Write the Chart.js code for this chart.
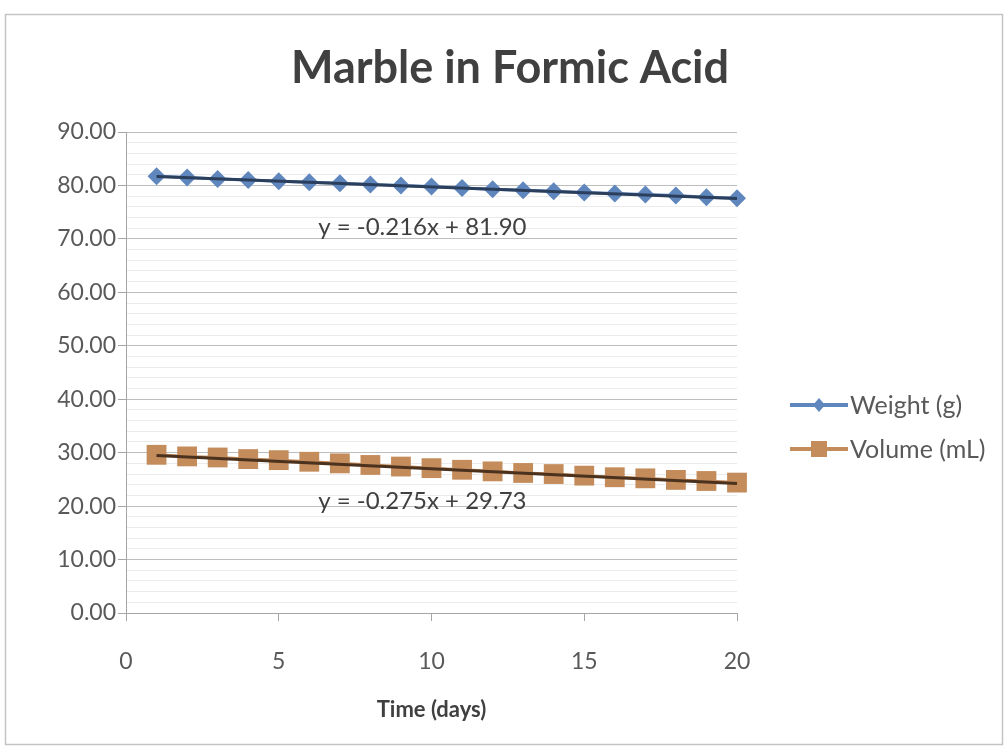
<!DOCTYPE html>
<html>
<head>
<meta charset="utf-8">
<script src="https://cdn.jsdelivr.net/npm/chart.js"></script>
<style>
  html, body { margin: 0; padding: 0; background: #fff; }
  canvas { display: block; }
</style>
</head>
<body>
<canvas id="chart" width="1006" height="751"></canvas>
<script>
const chartTitle = "Marble in Formic Acid";
const days = [1, 2, 3, 4, 5, 6, 7, 8, 9, 10, 11, 12, 13, 14, 15, 16, 17, 18, 19, 20];
const weight = [81.7, 81.5, 81.2, 81.0, 80.8, 80.6, 80.4, 80.2, 80.0, 79.8, 79.5, 79.3, 79.1, 78.9, 78.7, 78.5, 78.3, 78.1, 77.8, 77.6];
const volume = [29.6, 29.3, 29.1, 28.8, 28.6, 28.3, 28.0, 27.7, 27.4, 27.1, 26.8, 26.5, 26.2, 26.0, 25.7, 25.4, 25.2, 24.9, 24.7, 24.4];

// trendline ends
const trendDays = [1, 20];
const weightTrend = [81.68, 77.58];
const volumeTrend = [29.46, 24.23];
const equations = ["y = -0.216x + 81.90", "y = -0.275x + 29.73"];
const equationAt = [[9.7, 72.2], [9.7, 21.0]];

const seriesNames = ["Weight (g)", "Volume (mL)"];
const blue = "#5f87bd";
const tan = "#c48b5b";
const textGray = "#595959";
const axisGray = "#a6a6a6";

Chart.defaults.font.family = "Lato, 'Open Sans', sans-serif";

function pairs(xs, ys) {
  return xs.map((x, i) => ({ x: x, y: ys[i] }));
}

const framePlugin = {
  id: "frame",
  beforeDraw(chart) {
    const ctx = chart.ctx;
    ctx.save();
    ctx.fillStyle = "#fff";
    ctx.fillRect(0, 0, chart.width, chart.height);
    ctx.strokeStyle = "#c4c4c4";
    ctx.lineWidth = 1.5;
    ctx.strokeRect(5.5, 14.5, chart.width - 9, chart.height - 21);
    ctx.restore();
  },
  afterDraw(chart) {
    const ctx = chart.ctx;
    const { x, y } = chart.scales;
    ctx.save();
    // title
    ctx.fillStyle = "#404040";
    ctx.font = "bold 45px Lato";
    ctx.textAlign = "center";
    ctx.textBaseline = "middle";
    ctx.fillText(chartTitle, 510, 68);

    // trendline equations
    ctx.font = "24px Lato";
    ctx.fillStyle = "#404040";
    equations.forEach((txt, i) => {
      ctx.fillText(txt, x.getPixelForValue(equationAt[i][0]), y.getPixelForValue(equationAt[i][1]));
    });

    // legend
    const area = chart.chartArea;
    const lx = area.right + 53;
    const rows = [405, 449];
    const colors = [blue, tan];
    ctx.textAlign = "left";
    rows.forEach((ry, i) => {
      ctx.strokeStyle = colors[i];
      ctx.lineWidth = 4;
      ctx.beginPath();
      ctx.moveTo(lx, ry);
      ctx.lineTo(lx + 58, ry);
      ctx.stroke();
      ctx.fillStyle = colors[i];
      const cx = lx + 29;
      if (i === 0) {
        ctx.beginPath();
        ctx.moveTo(cx, ry - 7);
        ctx.lineTo(cx + 6, ry);
        ctx.lineTo(cx, ry + 7);
        ctx.lineTo(cx - 6, ry);
        ctx.closePath();
        ctx.fill();
      } else {
        ctx.fillRect(cx - 8, ry - 8, 16, 16);
      }
      ctx.fillStyle = textGray;
      ctx.font = "25px Lato";
      ctx.fillText(seriesNames[i], lx + 60, ry + 1);
    });
    ctx.restore();
  }
};

new Chart(document.getElementById("chart"), {
  type: "line",
  data: {
    datasets: [
      {
        label: seriesNames[0],
        data: pairs(days, weight),
        borderColor: blue,
        backgroundColor: blue,
        borderWidth: 3,
        pointStyle: "rectRot",
        pointRadius: 9,
        pointBorderWidth: 0,
        clip: false,
        order: 2,
      },
      {
        label: seriesNames[1],
        data: pairs(days, volume),
        borderColor: tan,
        backgroundColor: tan,
        borderWidth: 3,
        pointStyle: "rect",
        pointRadius: 14,
        pointBorderWidth: 0,
        clip: false,
        order: 2,
      },
      {
        label: "weight trend",
        data: pairs(trendDays, weightTrend),
        borderColor: "#2b3f5c",
        borderWidth: 3,
        pointRadius: 0,
        clip: false,
        order: 0,
      },
      {
        label: "volume trend",
        data: pairs(trendDays, volumeTrend),
        borderColor: "#4a321f",
        borderWidth: 3,
        pointRadius: 0,
        clip: false,
        order: 0,
      },
    ],
  },
  options: {
    responsive: false,
    animation: false,
    devicePixelRatio: 1,
    layout: {
      padding: { left: 0, top: 132, right: 269, bottom: 18 },
    },
    plugins: {
      legend: { display: false },
      tooltip: { enabled: false },
    },
    scales: {
      x: {
        type: "linear",
        min: 0,
        max: 20,
        ticks: {
          stepSize: 5,
          color: textGray,
          font: { size: 23 },
          padding: 27,
        },
        grid: {
          drawOnChartArea: false,
          tickLength: 8,
          tickColor: axisGray,
        },
        border: { display: true, color: axisGray },
        title: {
          display: true,
          text: "Time (days)",
          color: "#404040",
          font: { size: 22, weight: "bold" },
          padding: { top: 0, bottom: 10 },
        },
        afterFit(scale) {
          scale.height = 120;
        },
      },
      y: {
        min: 0,
        max: 90,
        ticks: {
          stepSize: 2,
          autoSkip: false,
          color: textGray,
          font: { size: 23 },
          padding: 2,
          callback: (v) => (v % 10 === 0 ? v.toFixed(2) : ""),
        },
        grid: {
          tickLength: 8,
          color: (c) => (c.tick && c.tick.value % 10 === 0 ? "#bdbdbd" : "#ebebeb"),
          tickColor: (c) => (c.tick && c.tick.value % 10 === 0 ? axisGray : "rgba(0,0,0,0)"),
        },
        border: { display: true, color: axisGray },
        afterFit(scale) {
          scale.width = 126;
        },
      },
    },
  },
  plugins: [framePlugin],
});
</script>
</body>
</html>
